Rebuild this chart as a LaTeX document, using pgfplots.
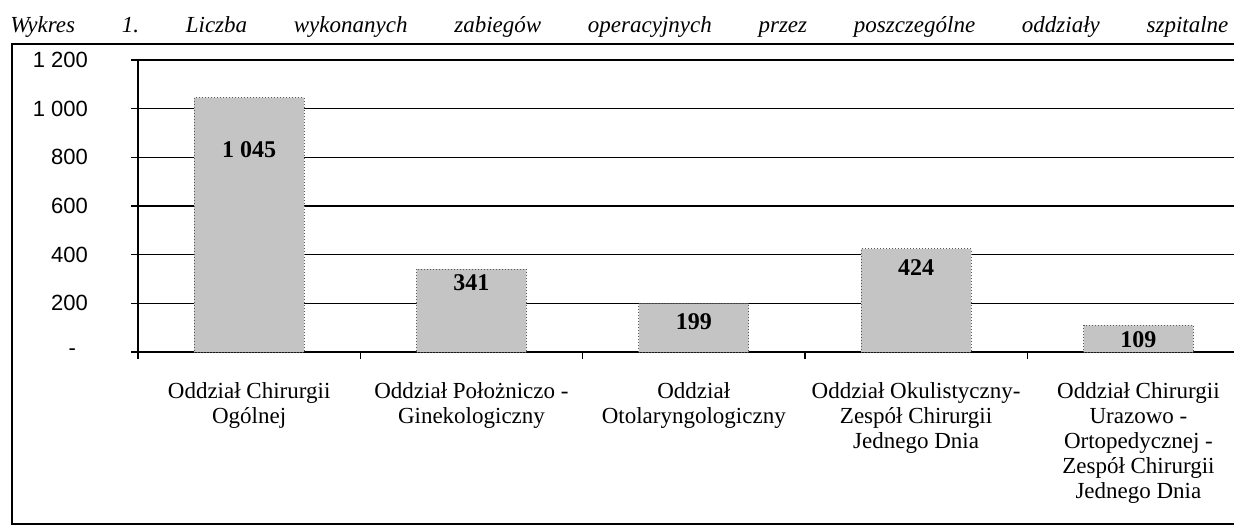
\documentclass[border=0pt]{standalone}
\usepackage{pgfplots}
\pgfplotsset{compat=1.18}
\usepackage{fontspec}
\setmainfont{Liberation Serif}
\newfontfamily\sansf{Liberation Sans}
\definecolor{barfill}{RGB}{196,196,196}
\definecolor{baredge}{RGB}{90,90,90}
\begin{document}
\begin{tikzpicture}
\useasboundingbox (0,0) rectangle (617pt,263pt);
% outer frame
\draw[line width=0.7pt] (620pt,241pt) -- (6pt,241pt) -- (6pt,1pt) -- (620pt,1pt);
% title
\node[anchor=base west, inner sep=0pt] at (5pt,246.5pt)
  {\makebox[609pt][s]{\fontsize{11.5pt}{13pt}\selectfont\itshape Wykres\hfill 1.\hfill Liczba\hfill wykonanych\hfill zabiegów\hfill operacyjnych\hfill przez\hfill poszczególne\hfill oddziały\hfill szpitalne}};
\begin{axis}[
  at={(69pt,87pt)}, anchor=south west,
  scale only axis, width=548pt, height=146pt,
  xmin=-0.5, xmax=4.43, ymin=0, ymax=1200,
  axis x line=bottom, axis y line=left,
  axis line style={-, line width=0.7pt, black},
  tick align=outside, major tick length=3.5pt,
  tick style={black, line width=0.7pt},
  ymajorgrids, grid style={black, line width=0.7pt},
  ytick={0,200,400,600,800,1000,1200},
  yticklabels={{-\hspace*{6pt}},200,400,600,800,1 000,1 200},
  yticklabel style={font=\sansf\fontsize{11pt}{13pt}\selectfont, anchor=east, xshift=-18pt},
  xtick={-0.5,0.5,1.5,2.5,3.5},
  xticklabels={},
  extra x ticks={0,1,2,3,4},
  extra x tick labels={{Oddział Chirurgii\\Ogólnej},{Oddział Położniczo -\\Ginekologiczny},{Oddział\\Otolaryngologiczny},{Oddział Okulistyczny-\\Zespół Chirurgii\\Jednego Dnia},{Oddział Chirurgii\\Urazowo -\\Ortopedycznej -\\Zespół Chirurgii\\Jednego Dnia}},
  extra x tick style={major tick length=0pt, xticklabel style={align=center, anchor=north, yshift=-11.5pt, font=\fontsize{11.5pt}{12.5pt}\selectfont}},
  clip=false,
]
\addplot[ybar, bar width=0.494, fill=barfill, draw=baredge, line width=0.5pt, densely dotted]
  coordinates {(0,1045) (1,341) (2,199) (3,424) (4,109)};
\addplot[only marks, mark=none, point meta=explicit symbolic, nodes near coords,
  nodes near coords align={center},
  every node near coord/.append style={font=\fontsize{12pt}{14pt}\selectfont\bfseries, text=black}]
  coordinates {(0,830) [1 045] (1,284) [341] (2,123) [199] (3,349) [424] (4,49) [109]};
\end{axis}
\end{tikzpicture}
\end{document}
